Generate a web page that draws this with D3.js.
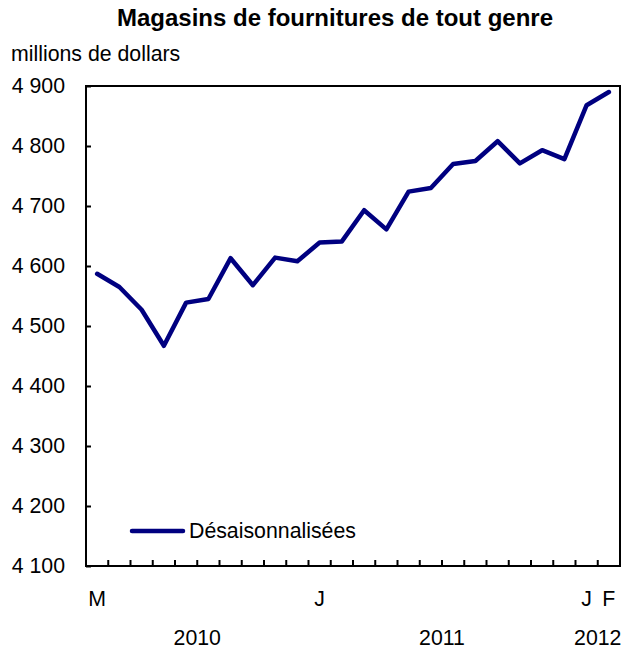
<!DOCTYPE html>
<html>
<head>
<meta charset="utf-8">
<script src="https://cdn.jsdelivr.net/npm/d3@7"></script>
<style>
  body { margin: 0; background: #fff; }
  text { font-family: "Liberation Sans", Arial, sans-serif; fill: #000; }
</style>
</head>
<body>
<div id="chart"></div>
<script>
// months Mar 2010 .. Feb 2012
const months = ["2010-03","2010-04","2010-05","2010-06","2010-07","2010-08","2010-09","2010-10","2010-11","2010-12",
  "2011-01","2011-02","2011-03","2011-04","2011-05","2011-06","2011-07","2011-08","2011-09","2011-10","2011-11","2011-12",
  "2012-01","2012-02"];
const values = [4587, 4565, 4527, 4467, 4539, 4545, 4613, 4568, 4614, 4608,
  4639, 4641, 4693, 4661, 4724, 4730, 4770, 4775, 4808, 4771, 4793, 4778,
  4868, 4890];
const yTicks = [4100, 4200, 4300, 4400, 4500, 4600, 4700, 4800, 4900];
const monthLabels = [["2010-03", "M"], ["2011-01", "J"], ["2012-01", "J"], ["2012-02", "F"]];
const yearLabels = [["2010", "2010-03", "2010-12"], ["2011", "2011-01", "2011-12"], ["2012", "2012-01", "2012-02"]];

const width = 624, height = 651;
const margin = {top: 86, right: 4, bottom: 85, left: 86};
const fs = "21.3px";

const svg = d3.select("#chart").append("svg")
    .attr("width", width)
    .attr("height", height);

const x = d3.scaleBand()
    .domain(months)
    .range([margin.left, width - margin.right]);

const y = d3.scaleLinear()
    .domain([4100, 4900])
    .range([height - margin.bottom, margin.top]);

const cx = m => x(m) + x.bandwidth() / 2;

// title
svg.append("text")
    .attr("x", 335)
    .attr("y", 26)
    .attr("text-anchor", "middle")
    .style("font-weight", "bold")
    .style("font-size", "24px")
    .text("Magasins de fournitures de tout genre");

svg.append("text")
    .attr("x", 11)
    .attr("y", 61)
    .style("font-size", fs)
    .text("millions de dollars");

// y axis
const yAxis = d3.axisLeft(y)
    .tickValues(yTicks)
    .tickSize(-5)
    .tickPadding(21)
    .tickFormat(d => d3.format(",")(d).replace(",", " "));

svg.append("g")
    .attr("transform", `translate(${margin.left},0)`)
    .call(yAxis)
    .call(g => g.select(".domain").remove())
    .call(g => g.selectAll(".tick line").attr("stroke", "#000").attr("stroke-width", 2))
    .call(g => g.selectAll(".tick text")
        .style("font-size", fs)
        .style("font-family", "'Liberation Sans', Arial, sans-serif"));

// x ticks at month boundaries
const xTickAt = months.slice(1);
svg.append("g")
  .selectAll("line")
  .data(xTickAt)
  .join("line")
    .attr("x1", d => x(d))
    .attr("x2", d => x(d))
    .attr("y1", y(4100))
    .attr("y2", y(4100) - 6)
    .attr("stroke", "#000")
    .attr("stroke-width", 2);

// month letters
svg.append("g")
  .selectAll("text")
  .data(monthLabels)
  .join("text")
    .attr("x", d => cx(d[0]))
    .attr("y", 606)
    .attr("text-anchor", "middle")
    .style("font-size", fs)
    .text(d => d[1]);

// years
svg.append("g")
  .selectAll("text")
  .data(yearLabels)
  .join("text")
    .attr("x", d => (cx(d[1]) + cx(d[2])) / 2)
    .attr("y", 645)
    .attr("text-anchor", "middle")
    .style("font-size", fs)
    .text(d => d[0]);

// frame
svg.append("rect")
    .attr("x", margin.left)
    .attr("y", margin.top)
    .attr("width", width - margin.right - margin.left)
    .attr("height", height - margin.bottom - margin.top)
    .attr("fill", "none")
    .attr("stroke", "#000")
    .attr("stroke-width", 2);

// series line
const line = d3.line()
    .x((d, i) => cx(months[i]))
    .y(d => y(d));

svg.append("path")
    .datum(values)
    .attr("fill", "none")
    .attr("stroke", "#000080")
    .attr("stroke-width", 4.5)
    .attr("stroke-linejoin", "round")
    .attr("stroke-linecap", "round")
    .attr("d", line);

// legend
svg.append("line")
    .attr("x1", 132)
    .attr("x2", 183)
    .attr("y1", 531)
    .attr("y2", 531)
    .attr("stroke", "#000080")
    .attr("stroke-width", 4.5)
    .attr("stroke-linecap", "round");

svg.append("text")
    .attr("x", 189)
    .attr("y", 538)
    .style("font-size", fs)
    .text("Désaisonnalisées");
</script>
</body>
</html>
